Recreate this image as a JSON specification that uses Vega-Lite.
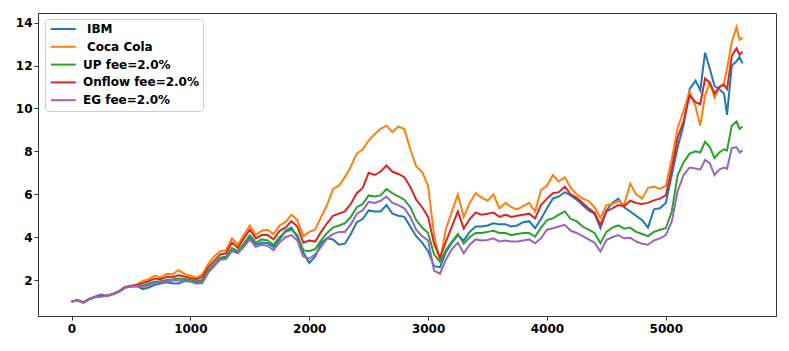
{
"$schema": "https://vega.github.io/schema/vega-lite/v6.json",
"width": 738, "height": 303,
"autosize": {"type": "none"},
"padding": {"left": 38, "top": 13, "right": 13, "bottom": 35},
"config": {
  "view": {"stroke": "#333333", "strokeWidth": 1},
  "font": "DejaVu Sans",
  "axis": {"grid": false, "domainColor": "#333333", "tickColor": "#333333", "labelColor": "#000000", "labelFont": "DejaVu Sans", "labelFontWeight": "bold", "labelFontSize": 12, "tickSize": 4, "domainWidth": 1},
  "legend": {"labelFont": "DejaVu Sans", "labelFontWeight": "bold", "labelFontSize": 12, "labelColor": "#000000"}
},
"data": {"values": [
{"t":0,"IBM":1.00,"KO":1.00,"UP":1.00,"ON":1.00,"EG":1.00},
{"t":50,"IBM":1.07,"KO":1.05,"UP":1.06,"ON":1.06,"EG":1.05},
{"t":100,"IBM":0.97,"KO":0.96,"UP":0.96,"ON":0.97,"EG":0.94},
{"t":150,"IBM":1.13,"KO":1.12,"UP":1.12,"ON":1.13,"EG":1.11},
{"t":200,"IBM":1.24,"KO":1.21,"UP":1.21,"ON":1.22,"EG":1.20},
{"t":250,"IBM":1.33,"KO":1.25,"UP":1.26,"ON":1.25,"EG":1.24},
{"t":300,"IBM":1.26,"KO":1.28,"UP":1.27,"ON":1.28,"EG":1.26},
{"t":350,"IBM":1.36,"KO":1.36,"UP":1.35,"ON":1.36,"EG":1.34},
{"t":400,"IBM":1.47,"KO":1.49,"UP":1.47,"ON":1.48,"EG":1.45},
{"t":450,"IBM":1.66,"KO":1.68,"UP":1.66,"ON":1.67,"EG":1.64},
{"t":500,"IBM":1.70,"KO":1.74,"UP":1.72,"ON":1.73,"EG":1.70},
{"t":550,"IBM":1.72,"KO":1.80,"UP":1.76,"ON":1.78,"EG":1.73},
{"t":600,"IBM":1.58,"KO":1.96,"UP":1.75,"ON":1.86,"EG":1.68},
{"t":650,"IBM":1.66,"KO":2.05,"UP":1.83,"ON":1.95,"EG":1.76},
{"t":700,"IBM":1.78,"KO":2.21,"UP":1.93,"ON":2.08,"EG":1.86},
{"t":750,"IBM":1.84,"KO":2.13,"UP":1.95,"ON":2.04,"EG":1.89},
{"t":800,"IBM":1.90,"KO":2.30,"UP":2.01,"ON":2.16,"EG":1.95},
{"t":850,"IBM":1.86,"KO":2.27,"UP":2.03,"ON":2.14,"EG":1.98},
{"t":900,"IBM":1.85,"KO":2.47,"UP":2.08,"ON":2.23,"EG":2.00},
{"t":950,"IBM":1.96,"KO":2.30,"UP":2.05,"ON":2.17,"EG":1.95},
{"t":1000,"IBM":1.98,"KO":2.21,"UP":2.01,"ON":2.10,"EG":1.93},
{"t":1050,"IBM":1.90,"KO":2.12,"UP":1.95,"ON":2.04,"EG":1.85},
{"t":1100,"IBM":1.93,"KO":2.26,"UP":2.01,"ON":2.15,"EG":1.86},
{"t":1150,"IBM":2.40,"KO":2.75,"UP":2.45,"ON":2.60,"EG":2.35},
{"t":1200,"IBM":2.70,"KO":3.10,"UP":2.75,"ON":2.90,"EG":2.65},
{"t":1250,"IBM":3.00,"KO":3.35,"UP":3.05,"ON":3.20,"EG":2.95},
{"t":1300,"IBM":3.05,"KO":3.40,"UP":3.10,"ON":3.25,"EG":2.98},
{"t":1350,"IBM":3.45,"KO":3.95,"UP":3.50,"ON":3.75,"EG":3.35},
{"t":1400,"IBM":3.30,"KO":3.65,"UP":3.35,"ON":3.50,"EG":3.25},
{"t":1450,"IBM":3.65,"KO":4.10,"UP":3.70,"ON":3.95,"EG":3.55},
{"t":1500,"IBM":4.00,"KO":4.55,"UP":4.10,"ON":4.35,"EG":3.90},
{"t":1550,"IBM":3.65,"KO":4.10,"UP":3.75,"ON":3.95,"EG":3.55},
{"t":1600,"IBM":3.75,"KO":4.30,"UP":3.90,"ON":4.10,"EG":3.65},
{"t":1650,"IBM":3.72,"KO":4.35,"UP":3.85,"ON":4.10,"EG":3.60},
{"t":1700,"IBM":3.55,"KO":4.15,"UP":3.65,"ON":3.90,"EG":3.40},
{"t":1750,"IBM":3.90,"KO":4.55,"UP":4.00,"ON":4.30,"EG":3.75},
{"t":1800,"IBM":4.30,"KO":4.70,"UP":4.25,"ON":4.45,"EG":4.00},
{"t":1850,"IBM":4.45,"KO":5.05,"UP":4.35,"ON":4.75,"EG":4.10},
{"t":1900,"IBM":4.00,"KO":4.80,"UP":4.10,"ON":4.50,"EG":3.85},
{"t":1950,"IBM":3.30,"KO":4.05,"UP":3.40,"ON":3.75,"EG":3.10},
{"t":2000,"IBM":2.80,"KO":4.25,"UP":3.35,"ON":3.85,"EG":3.00},
{"t":2050,"IBM":3.10,"KO":4.35,"UP":3.45,"ON":3.80,"EG":3.20},
{"t":2100,"IBM":3.75,"KO":4.95,"UP":3.85,"ON":4.25,"EG":3.55},
{"t":2150,"IBM":3.95,"KO":5.50,"UP":4.20,"ON":4.65,"EG":3.95},
{"t":2200,"IBM":3.90,"KO":6.25,"UP":4.45,"ON":5.00,"EG":4.15},
{"t":2250,"IBM":3.65,"KO":6.40,"UP":4.55,"ON":5.10,"EG":4.25},
{"t":2300,"IBM":3.70,"KO":6.80,"UP":4.65,"ON":5.20,"EG":4.25},
{"t":2350,"IBM":4.15,"KO":7.30,"UP":4.95,"ON":5.55,"EG":4.60},
{"t":2400,"IBM":4.70,"KO":7.90,"UP":5.40,"ON":6.05,"EG":5.10},
{"t":2450,"IBM":4.85,"KO":8.10,"UP":5.55,"ON":6.30,"EG":5.25},
{"t":2500,"IBM":5.25,"KO":8.50,"UP":5.95,"ON":7.00,"EG":5.65},
{"t":2550,"IBM":5.20,"KO":8.80,"UP":5.90,"ON":6.90,"EG":5.60},
{"t":2600,"IBM":5.20,"KO":9.05,"UP":5.95,"ON":7.05,"EG":5.70},
{"t":2650,"IBM":5.50,"KO":9.20,"UP":6.25,"ON":7.35,"EG":5.90},
{"t":2700,"IBM":5.10,"KO":8.90,"UP":6.05,"ON":7.05,"EG":5.60},
{"t":2750,"IBM":5.00,"KO":9.15,"UP":5.90,"ON":6.95,"EG":5.50},
{"t":2800,"IBM":4.95,"KO":9.05,"UP":5.75,"ON":6.80,"EG":5.35},
{"t":2850,"IBM":4.50,"KO":8.10,"UP":5.40,"ON":6.35,"EG":4.95},
{"t":2900,"IBM":4.05,"KO":7.30,"UP":4.80,"ON":5.75,"EG":4.35},
{"t":2950,"IBM":3.75,"KO":7.05,"UP":4.45,"ON":5.40,"EG":4.05},
{"t":3000,"IBM":3.35,"KO":6.40,"UP":4.20,"ON":4.95,"EG":3.85},
{"t":3050,"IBM":2.65,"KO":4.10,"UP":3.20,"ON":3.70,"EG":2.45},
{"t":3100,"IBM":2.60,"KO":2.90,"UP":2.85,"ON":3.05,"EG":2.30},
{"t":3150,"IBM":3.30,"KO":4.40,"UP":3.40,"ON":3.80,"EG":2.95},
{"t":3200,"IBM":3.75,"KO":5.20,"UP":3.80,"ON":4.50,"EG":3.45},
{"t":3250,"IBM":4.10,"KO":6.00,"UP":4.15,"ON":5.20,"EG":3.75},
{"t":3300,"IBM":3.85,"KO":4.95,"UP":3.70,"ON":4.40,"EG":3.25},
{"t":3350,"IBM":4.25,"KO":5.60,"UP":4.00,"ON":4.85,"EG":3.65},
{"t":3400,"IBM":4.50,"KO":6.05,"UP":4.20,"ON":5.15,"EG":3.90},
{"t":3450,"IBM":4.50,"KO":5.85,"UP":4.20,"ON":5.05,"EG":3.85},
{"t":3500,"IBM":4.55,"KO":5.70,"UP":4.25,"ON":5.10,"EG":3.87},
{"t":3550,"IBM":4.65,"KO":6.00,"UP":4.30,"ON":5.15,"EG":3.95},
{"t":3600,"IBM":4.60,"KO":5.35,"UP":4.20,"ON":4.95,"EG":3.80},
{"t":3650,"IBM":4.60,"KO":5.60,"UP":4.20,"ON":5.05,"EG":3.85},
{"t":3700,"IBM":4.50,"KO":5.40,"UP":4.10,"ON":4.95,"EG":3.80},
{"t":3750,"IBM":4.55,"KO":5.30,"UP":4.15,"ON":5.00,"EG":3.80},
{"t":3800,"IBM":4.70,"KO":5.45,"UP":4.20,"ON":5.05,"EG":3.85},
{"t":3850,"IBM":4.75,"KO":5.60,"UP":4.20,"ON":5.10,"EG":3.90},
{"t":3900,"IBM":4.42,"KO":5.20,"UP":4.03,"ON":4.88,"EG":3.72},
{"t":3950,"IBM":4.85,"KO":6.20,"UP":4.45,"ON":5.50,"EG":3.95},
{"t":4000,"IBM":5.35,"KO":6.40,"UP":4.80,"ON":5.80,"EG":4.35},
{"t":4050,"IBM":5.80,"KO":6.90,"UP":4.88,"ON":6.05,"EG":4.42},
{"t":4100,"IBM":5.90,"KO":6.60,"UP":5.05,"ON":6.10,"EG":4.50},
{"t":4150,"IBM":6.10,"KO":6.80,"UP":5.20,"ON":6.35,"EG":4.58},
{"t":4200,"IBM":5.95,"KO":6.30,"UP":4.85,"ON":6.00,"EG":4.30},
{"t":4250,"IBM":5.75,"KO":6.00,"UP":4.75,"ON":5.85,"EG":4.20},
{"t":4300,"IBM":5.50,"KO":5.80,"UP":4.50,"ON":5.60,"EG":4.05},
{"t":4350,"IBM":5.25,"KO":5.70,"UP":4.35,"ON":5.35,"EG":3.90},
{"t":4400,"IBM":5.10,"KO":5.40,"UP":4.20,"ON":5.15,"EG":3.75},
{"t":4450,"IBM":4.42,"KO":4.90,"UP":3.72,"ON":4.57,"EG":3.33},
{"t":4500,"IBM":5.25,"KO":5.50,"UP":4.25,"ON":5.20,"EG":3.87},
{"t":4550,"IBM":5.60,"KO":5.55,"UP":4.45,"ON":5.35,"EG":4.00},
{"t":4600,"IBM":5.80,"KO":5.70,"UP":4.55,"ON":5.50,"EG":4.10},
{"t":4650,"IBM":5.40,"KO":5.50,"UP":4.40,"ON":5.45,"EG":3.95},
{"t":4700,"IBM":5.20,"KO":6.50,"UP":4.45,"ON":5.70,"EG":3.98},
{"t":4750,"IBM":5.00,"KO":6.00,"UP":4.25,"ON":5.60,"EG":3.80},
{"t":4800,"IBM":4.80,"KO":5.80,"UP":4.15,"ON":5.55,"EG":3.70},
{"t":4850,"IBM":4.45,"KO":6.30,"UP":4.05,"ON":5.60,"EG":3.65},
{"t":4900,"IBM":5.30,"KO":6.35,"UP":4.25,"ON":5.72,"EG":3.85},
{"t":4950,"IBM":5.35,"KO":6.25,"UP":4.35,"ON":5.80,"EG":3.95},
{"t":5000,"IBM":5.60,"KO":6.40,"UP":4.42,"ON":5.95,"EG":4.10},
{"t":5050,"IBM":6.90,"KO":7.65,"UP":5.20,"ON":7.20,"EG":4.73},
{"t":5100,"IBM":8.20,"KO":9.10,"UP":6.90,"ON":8.65,"EG":6.15},
{"t":5150,"IBM":9.25,"KO":9.90,"UP":7.50,"ON":9.40,"EG":6.90},
{"t":5200,"IBM":10.90,"KO":10.80,"UP":7.90,"ON":10.60,"EG":7.25},
{"t":5250,"IBM":11.30,"KO":10.10,"UP":8.00,"ON":10.30,"EG":7.20},
{"t":5290,"IBM":10.85,"KO":9.20,"UP":7.95,"ON":10.20,"EG":7.15},
{"t":5330,"IBM":12.60,"KO":10.60,"UP":8.45,"ON":11.40,"EG":7.60},
{"t":5370,"IBM":11.85,"KO":11.20,"UP":8.20,"ON":11.20,"EG":7.45},
{"t":5410,"IBM":11.05,"KO":10.50,"UP":7.70,"ON":10.70,"EG":6.90},
{"t":5450,"IBM":10.90,"KO":11.00,"UP":7.95,"ON":11.00,"EG":7.15},
{"t":5490,"IBM":10.70,"KO":11.20,"UP":8.10,"ON":11.10,"EG":7.25},
{"t":5515,"IBM":9.70,"KO":11.85,"UP":8.05,"ON":10.90,"EG":7.20},
{"t":5555,"IBM":12.00,"KO":13.10,"UP":9.20,"ON":12.45,"EG":8.15},
{"t":5595,"IBM":12.20,"KO":13.80,"UP":9.40,"ON":12.80,"EG":8.20},
{"t":5620,"IBM":12.40,"KO":13.20,"UP":9.05,"ON":12.50,"EG":7.95},
{"t":5645,"IBM":12.10,"KO":13.30,"UP":9.15,"ON":12.65,"EG":8.05}
]},
"encoding": {
  "x": {"field": "t", "type": "quantitative", "title": null,
        "scale": {"domain": [-282, 5927], "nice": false, "zero": false},
        "axis": {"values": [0, 1000, 2000, 3000, 4000, 5000], "format": "d", "labelPadding": 3, "labelFlush": false}}
},
"layer": [
  {"mark": {"type": "line", "strokeWidth": 2, "clip": true},
   "encoding": {
     "y": {"field": "IBM", "type": "quantitative", "title": null,
           "scale": {"domain": [0.33, 14.45], "nice": false, "zero": false},
           "axis": {"values": [2, 4, 6, 8, 10, 12, 14], "labelPadding": 2}},
     "color": {"datum": "IBM",
       "scale": {"domain": ["IBM", "Coca Cola", "UP fee=2.0%", "Onflow fee=2.0%", "EG fee=2.0%"],
                 "range": ["#1f77b4", "#ff7f0e", "#2ca02c", "#d62728", "#9467bd"]},
       "legend": {"title": null, "orient": "none", "legendX": 7, "legendY": 6,
                  "labelExpr": "(datum.label == 'IBM' || datum.label == 'Coca Cola') ? '\u200b\u2004' + datum.label : datum.label",
                  "symbolType": "M-1,0H5", "symbolSize": 69, "symbolStrokeWidth": 2,
                  "labelOffset": 22, "rowPadding": 5.8, "padding": 4,
                  "strokeColor": "#cccccc", "fillColor": "rgba(255,255,255,0.8)", "cornerRadius": 3}}
   }},
  {"mark": {"type": "line", "strokeWidth": 2, "clip": true},
   "encoding": {"y": {"field": "KO", "type": "quantitative", "title": null}, "color": {"datum": "Coca Cola"}}},
  {"mark": {"type": "line", "strokeWidth": 2, "clip": true},
   "encoding": {"y": {"field": "UP", "type": "quantitative", "title": null}, "color": {"datum": "UP fee=2.0%"}}},
  {"mark": {"type": "line", "strokeWidth": 2, "clip": true},
   "encoding": {"y": {"field": "ON", "type": "quantitative", "title": null}, "color": {"datum": "Onflow fee=2.0%"}}},
  {"mark": {"type": "line", "strokeWidth": 2, "clip": true},
   "encoding": {"y": {"field": "EG", "type": "quantitative", "title": null}, "color": {"datum": "EG fee=2.0%"}}}
]
}
